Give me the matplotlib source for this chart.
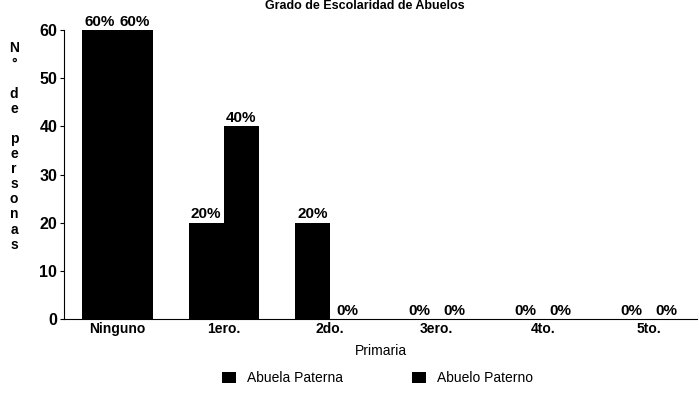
import matplotlib.pyplot as plt
import numpy as np

plt.rcParams['font.family'] = ['Liberation Sans', 'DejaVu Sans']

categorias = ['Ninguno', '1ero.', '2do.', '3ero.', '4to.', '5to.']
abuela_paterna = [60, 20, 20, 0, 0, 0]
abuelo_paterno = [60, 40, 0, 0, 0, 0]
etiq_abuela = ['60%', '20%', '20%', '0%', '0%', '0%']
etiq_abuelo = ['60%', '40%', '0%', '0%', '0%', '0%']

x = np.arange(len(categorias))
w = 0.33

fig = plt.figure(figsize=(6.99, 3.94), dpi=100)
ax = fig.add_axes([0.092, 0.19, 0.905, 0.734])

b1 = ax.bar(x - w / 2, abuela_paterna, w, color='black', label='Abuela Paterna')
b2 = ax.bar(x + w / 2, abuelo_paterno, w, color='black', label='Abuelo Paterno')
ax.bar_label(b1, labels=etiq_abuela, padding=1, fontsize=11, fontweight='bold')
ax.bar_label(b2, labels=etiq_abuelo, padding=1, fontsize=11, fontweight='bold')

ax.set_xlim(-0.5, 5.45)
ax.set_ylim(0, 60)
ax.set_yticks([0, 10, 20, 30, 40, 50, 60])
ax.set_xticks(x)
ax.set_xticklabels(categorias, fontsize=10, fontweight='bold')
ax.tick_params(axis='y', labelsize=11.5, length=3, pad=2)
ax.tick_params(axis='x', length=0, pad=2)
for t in ax.get_yticklabels():
    t.set_fontweight('bold')
ax.spines['top'].set_visible(False)
ax.spines['right'].set_visible(False)
ax.set_xlabel('Primaria', fontsize=10, labelpad=6)

# etiqueta vertical letra por letra
letras = ['N', '°', '', 'd', 'e', '', 'p', 'e', 'r', 's', 'o', 'n', 'a', 's']
fig.text(0.02, 0.895, '\n'.join(letras), ha='center', va='top',
         fontsize=10, fontweight='bold', linespacing=1.1)

fig.text(0.522, 0.985, 'Grado de Escolaridad de Abuelos', ha='center',
         va='center', fontsize=9, fontweight='bold')

fig.legend(handles=[b1, b2], loc='lower center', bbox_to_anchor=(0.54, -0.01),
           ncol=2, frameon=False, fontsize=10, handlelength=1.0,
           handleheight=0.8, columnspacing=5)

fig.savefig('out.png', dpi=100)
